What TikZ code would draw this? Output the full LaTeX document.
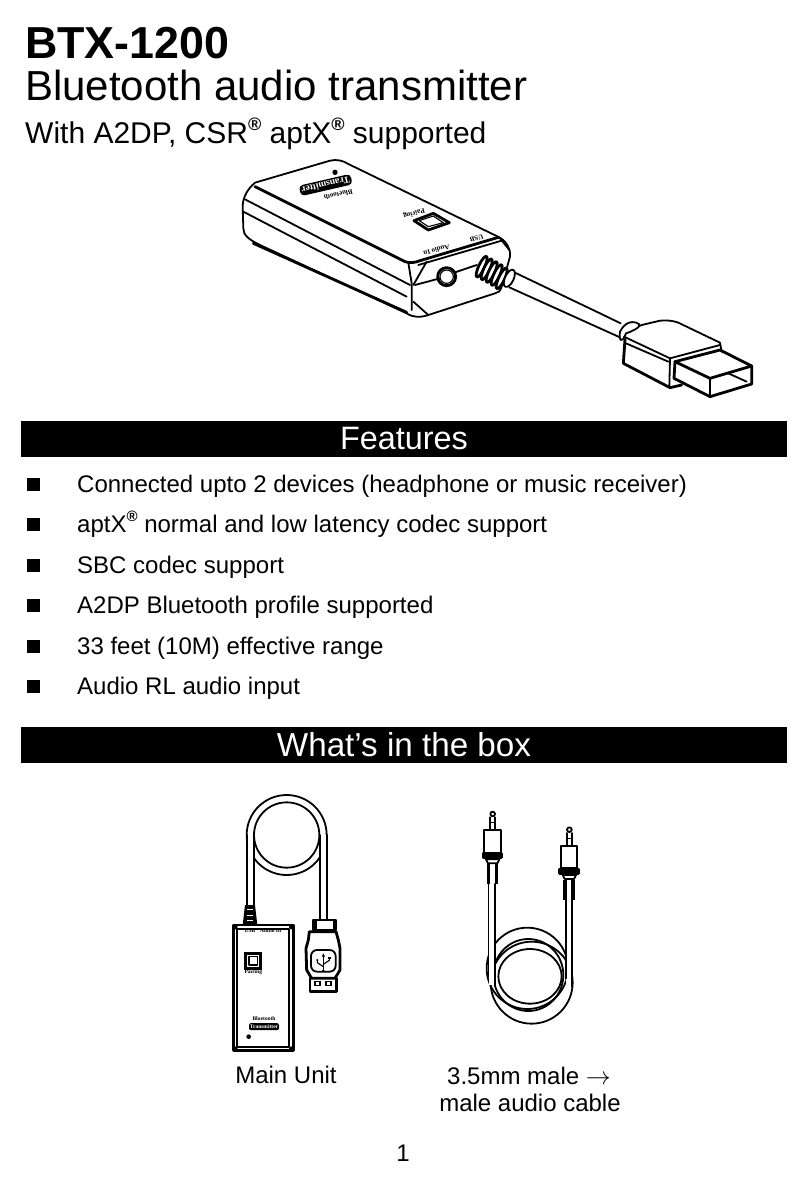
\documentclass[tikz,border=0pt]{standalone}
\usepackage{fontspec}
\setmainfont{Liberation Sans}
\newfontfamily\tinyfont{Liberation Serif}
\newcommand{\regmark}[1]{\raisebox{.42em}{\bfseries\fontsize{#1}{#1}\selectfont\textregistered}}
\tikzset{
  blackbar/.style={fill=black,text=white,minimum width=766pt,minimum height=36pt,inner sep=0pt,font=\fontsize{32.4}{36}\selectfont},
  squarebullet/.style={fill=black,minimum size=13pt,inner sep=0pt},
  itemtext/.style={anchor=base west,inner sep=0pt,font=\fontsize{24}{28}\selectfont},
  captiontext/.style={anchor=base,inner sep=0pt,font=\fontsize{24}{28}\selectfont},
  lineart/.style={line width=1.8pt,line join=round,line cap=round},
  thinart/.style={line width=1.1pt,line join=round,line cap=round},
  heavyart/.style={line width=2.8pt,line join=round,line cap=round},
  microtext/.style={inner sep=0pt,font=\tinyfont\bfseries\fontsize{7}{8}\selectfont},
  unittext/.style={inner sep=0pt,font=\tinyfont\bfseries\fontsize{5.5}{6}\selectfont}
}
\begin{document}
\begin{tikzpicture}[x=1pt,y=-1pt]
\useasboundingbox (0,0) rectangle (808,1187);

% En-tete
\node[anchor=base west,inner sep=0pt,font=\bfseries\fontsize{44.8}{50}\selectfont] (model) at (25,58) {BTX-1200};
\node[anchor=base west,inner sep=0pt,font=\fontsize{42}{48}\selectfont] (title) at (25,100) {Bluetooth audio transmitter};
\node[anchor=base west,inner sep=0pt,font=\fontsize{30}{36}\selectfont] (subtitle) at (25,143) {With A2DP, CSR\regmark{18} aptX\regmark{18} supported};

% Boitier en perspective
\begin{scope}[shift={(220,150)},scale=1/3]
\draw[lineart] (105,98) -- (330,32) .. controls (350,27) and (370,32) .. (385,42) -- (838,262)
  .. controls (860,275) and (872,295) .. (870,320) -- (845,410) .. controls (840,425) and (835,428) .. (825,430)
  -- (625,495) .. controls (600,503) and (580,503) .. (560,490) -- (120,285) .. controls (85,268) and (70,255) .. (70,235)
  -- (68,170) .. controls (68,140) and (85,115) .. (105,98);
\draw[heavyart] (105,110) -- (555,335) .. controls (570,340) and (585,338) .. (600,332) -- (835,262);
\draw[lineart] (75,148) -- (570,405);
\draw[lineart] (70,185) -- (560,440);
\draw[heavyart] (100,280) -- (560,487);
\draw[lineart] (595,345) -- (845,272);
\draw[lineart] (838,262) -- (868,300);
\draw[lineart] (565,338) -- (575,400) -- (575,480);
\draw[lineart] (620,335) -- (580,405);
\draw[lineart] (585,405) -- (660,385);
\draw[lineart] (705,367) -- (770,345);
\draw[lineart] (580,455) -- (625,495);
\draw[heavyart] (680,380) circle (27);
\draw[thinart] (680,380) circle (20);
% Passe-fil
\foreach \ribx/\riby in {785/350,800/358,815/366,830/375,845/385}
  \draw[heavyart,fill=white,rotate around={-25:(\ribx,\riby)}] (\ribx,\riby) ellipse (9 and 34);
\draw[lineart,fill=white,rotate around={-25:(868,385)}] (868,385) ellipse (13 and 28);
\coordinate (cabletop) at (885,368);
\coordinate (cablelow) at (868,412);
% Marquages
\node[fill=black,text=white,rounded corners=4pt,rotate=193,inner sep=2pt,font=\tinyfont\bfseries\fontsize{9.5}{10}\selectfont] (pill) at (317,105) {Transmitter};
\node[microtext,rotate=193] (blue) at (355,134) {Bluetooth};
\node[microtext,rotate=196] (pair) at (582,190) {Pairing};
\node[microtext,rotate=196] (audio) at (650,300) {Audio In};
\node[microtext,rotate=196] (usb) at (770,265) {USB};
\fill (345,67) circle (8);
% Bouton
\draw[heavyart] (582,212) -- (640,190) -- (688,218) -- (625,240) -- cycle;
\draw[thinart] (598,212) -- (640,198) -- (670,218) -- (625,230) -- cycle;
\end{scope}

% Fiche USB
\begin{scope}[shift={(600,290)},scale=1/3]
\coordinate (cableend) at (0,70);
\coordinate (cableendb) at (0,115);
\draw[lineart] (0,70) -- (62,100);
\draw[lineart] (0,115) -- (60,142);
\draw[lineart] (80,125) -- (125,105) -- (180,92) .. controls (200,90) and (220,92) .. (235,98) -- (360,158) -- (365,185);
\draw[lineart,fill=white] (78,130) .. controls (95,125) and (122,112) .. (118,103) .. controls (100,90) and (75,95) .. (60,125) .. controls (56,150) and (65,165) .. (78,130);
\draw[heavyart] (75,148) -- (70,220) -- (210,293) -- (245,285);
\draw[lineart] (72,140) -- (210,205) -- (360,165);
\draw[lineart] (78,160) -- (205,215);
\draw[lineart] (210,205) -- (208,290);
\draw[heavyart] (225,215) -- (360,180) -- (455,228) -- (330,265) -- cycle;
\draw[heavyart] (225,215) -- (222,265) -- (330,320) -- (455,282) -- (455,228);
\draw[heavyart] (330,265) -- (330,320);
\draw[lineart] (385,250) -- (440,275);
\end{scope}

% Features
\node[blackbar] (featuresbar) at (404,439) {Features};
\foreach \ypos/\itemlabel [count=\itemno] in {
  492/Connected upto 2 devices (headphone or music receiver),
  532/aptX\regmark{15} normal and low latency codec support,
  573/SBC codec support,
  613/A2DP Bluetooth profile supported,
  654/33 feet (10M) effective range,
  694/Audio RL audio input}
{
  \node[squarebullet] (bullet\itemno) at (33.5,\ypos-8) {};
  \node[itemtext] (item\itemno) at (77,\ypos) {\itemlabel};
}

\node[blackbar,font=\fontsize{33.2}{36}\selectfont] (boxbar) at (404,745) {What’s in the box};

% Unite principale
\begin{scope}[shift={(210,780)},scale=1/3]
\draw[lineart] (230,165) circle (120);
\draw[lineart] (230,165) circle (98);
\fill[white] (111,165) rectangle (131,380);
\fill[white] (330,165) rectangle (351,420);
\draw[lineart] (110,165) -- (110,375);
\draw[lineart] (132,165) -- (132,375);
\draw[lineart] (330,165) -- (330,420);
\draw[lineart] (352,165) -- (352,420);
% Passe-fil
\fill (105,375) -- (135,375) -- (142,435) -- (98,435) -- cycle;
\foreach \riby in {388,405,420}
  \draw[white,line width=0.8pt] (112,\riby) -- (128,\riby);
% Boitier
\draw[heavyart] (70,435) rectangle (250,812);
\draw[lineart] (82,447) rectangle (238,802);
\foreach \cornx/\corny in {76/441,244/441,76/806,244/806}
  \fill (\cornx,\corny) circle (7);
\node[unittext] (usbmark) at (120,451) {USB};
\node[unittext] (audiomark) at (182,451) {Audio In};
\draw[line width=3pt] (107,520) rectangle (152,565);
\draw[thinart] (117,530) rectangle (143,555);
\node[unittext] (pairmark) at (130,578) {Pairing};
\node[unittext] (bluemark) at (162,717) {Bluetooth};
\node[unittext,fill=black,text=white,rounded corners=2pt,minimum width=30pt,minimum height=7pt] (pillmark) at (162,740) {Transmitter};
\fill (116,770) circle (7);
% Fiche USB
\draw[lineart] (308,420) -- (378,420) -- (378,450) -- (308,450) -- cycle;
\fill (308,420) rectangle (322,450);
\fill (368,420) rectangle (378,450);
\draw[heavyart] (298,455) -- (378,455) -- (385,480) -- (390,505) -- (390,570) -- (375,595) -- (305,595) -- (290,570) -- (288,505) -- (295,480) -- cycle;
\draw[lineart,rounded corners=6pt] (303,510) rectangle (377,575);
\draw[heavyart] (300,595) -- (300,635) -- (380,635) -- (380,595);
\draw[thinart] (300,595) -- (380,595);
\fill (313,603) rectangle (333,618);
\fill (345,603) rectangle (365,618);
\fill[white] (318,607) rectangle (328,614);
\fill[white] (350,607) rectangle (360,614);
% Symbole USB
\draw[thinart] (340,525) -- (340,570);
\fill (340,520) -- (345,530) -- (335,530) -- cycle;
\fill (340,572) circle (4);
\draw[thinart] (340,560) -- (322,548) -- (322,542);
\draw[thinart] (340,553) -- (358,541) -- (358,535);
\fill (322,540) circle (3.5);
\fill (355,530) rectangle (362,537);
\end{scope}
\node[captiontext] (mainunit) at (286,1083) {Main Unit};

% Cordon audio
\begin{scope}[shift={(450,790)},scale=1/3]
\foreach \jackx/\jacky in {0/0,230/47}
{
\begin{scope}[shift={(\jackx,\jacky)}]
\draw[lineart] (128,72) circle (7);
\draw[lineart] (120,82) -- (120,120);
\draw[lineart] (136,82) -- (136,120);
\draw[thinart] (120,98) -- (136,98);
\draw[lineart] (102,120) rectangle (152,188);
\draw[heavyart,fill=black] (99,190) rectangle (155,203);
\draw[lineart] (108,208) -- (148,208) -- (142,220) -- (114,220) -- cycle;
\fill (110,222) rectangle (120,282);
\fill (134,222) rectangle (144,282);
\end{scope}
}
\draw[lineart] (232,535) circle (122);
\draw[lineart] (240,559) ellipse (95 and 82);
\draw[lineart] (245,578) circle (123);
\draw[lineart] (235,555) ellipse (105 and 108);
\draw[lineart] (116,282) -- (116,560);
\fill[white] (118,282) rectangle (135,585);
\draw[lineart] (136,282) -- (136,585);
\fill[white] (349,329) rectangle (364,590);
\draw[lineart] (347,329) -- (347,565);
\draw[lineart] (366,329) -- (366,590);
\end{scope}
\node[captiontext] (cablea) at (529,1084) {3.5mm male $\rightarrow$};
\node[captiontext] (cableb) at (530,1111) {male audio cable};

% Numero de page
\node[anchor=base,inner sep=0pt,font=\fontsize{24}{28}\selectfont] (pageno) at (403,1161) {1};

% Cable du boitier vers la fiche
\draw[lineart] (cabletop) -- (cableend);
\draw[lineart] (cablelow) -- (cableendb);
\end{tikzpicture}
\end{document}
